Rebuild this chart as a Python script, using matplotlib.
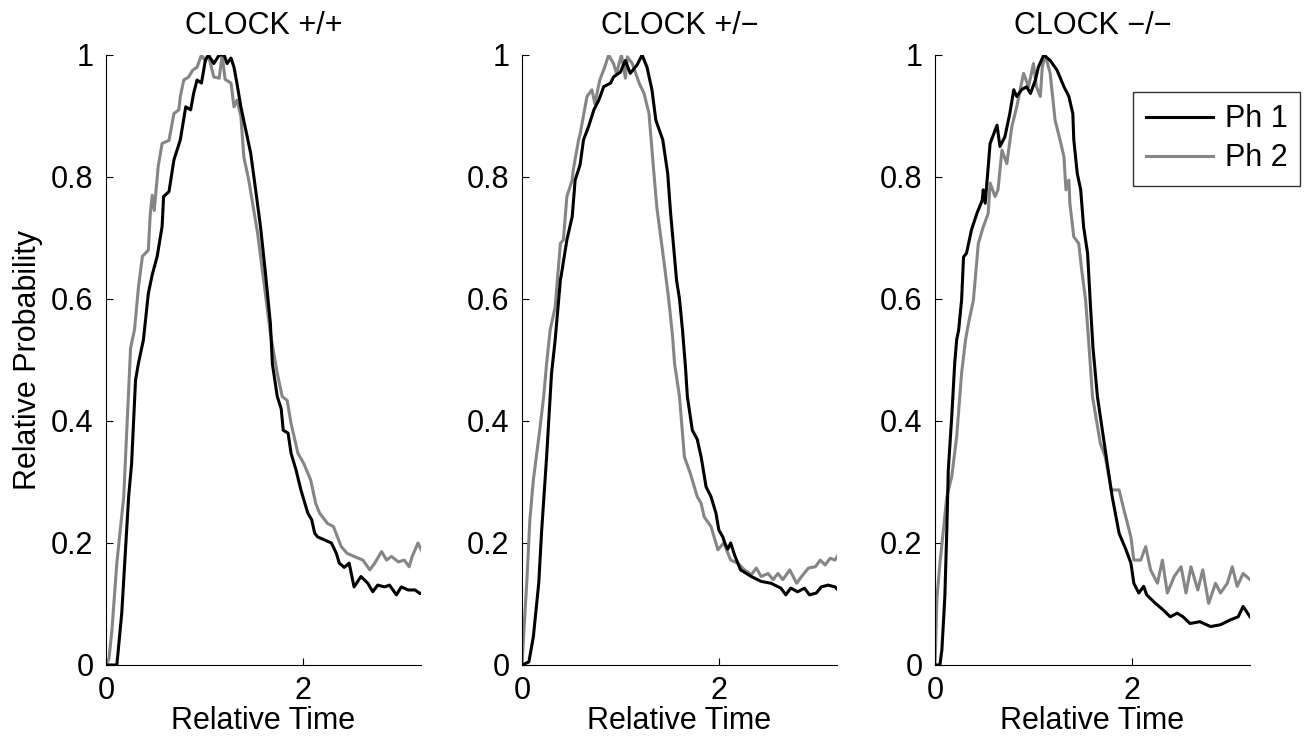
import numpy as np
import matplotlib
matplotlib.use("Agg")
import matplotlib.pyplot as plt

plt.rcParams['font.family'] = ['Liberation Sans', 'DejaVu Sans']
plt.rcParams['font.size'] = 22

titles = ['CLOCK +/+', 'CLOCK +/\u2212', 'CLOCK \u2212/\u2212']
labels = ['Ph 1', 'Ph 2']

# CLOCK +/+ , phase 1 (black)
t_wt_1 = [0, 0.08, 0.11, 0.125, 0.16, 0.19, 0.23, 0.26, 0.30, 0.33, 0.38, 0.43, 0.47, 0.52, 0.57,
          0.585, 0.64, 0.69, 0.755, 0.81, 0.86, 0.89, 0.925, 0.97, 1.01, 1.04, 1.095, 1.15, 1.20,
          1.23, 1.27, 1.30, 1.33, 1.37, 1.42, 1.47, 1.52, 1.57, 1.62, 1.67, 1.69, 1.74, 1.78, 1.80,
          1.85, 1.88, 1.93, 1.98, 2.05, 2.09, 2.12, 2.15, 2.22, 2.29, 2.34, 2.37, 2.42, 2.47, 2.52,
          2.59, 2.66, 2.71, 2.76, 2.83, 2.88, 2.95, 3.0, 3.07, 3.14, 3.19, 3.22]
p_wt_1 = [0, 0.0, 0.0, 0.025, 0.085, 0.167, 0.276, 0.33, 0.467, 0.495, 0.533, 0.609, 0.64, 0.67, 0.719,
          0.768, 0.776, 0.828, 0.861, 0.915, 0.91, 0.937, 0.959, 0.954, 0.992, 1.0, 0.986, 1.0, 1.0,
          0.986, 0.995, 0.98, 0.954, 0.915, 0.877, 0.839, 0.779, 0.718, 0.642, 0.56, 0.494, 0.44, 0.42, 0.385,
          0.38, 0.347, 0.32, 0.287, 0.249, 0.238, 0.216, 0.21, 0.205, 0.2, 0.183, 0.167, 0.16, 0.167, 0.128,
          0.145, 0.134, 0.12, 0.131, 0.128, 0.131, 0.115, 0.128, 0.123, 0.123, 0.117, 0.12]

# CLOCK +/+ , phase 2 (grey)
t_wt_2 = [0, 0.03, 0.06, 0.11, 0.18, 0.25, 0.29, 0.33, 0.37, 0.43, 0.45, 0.47, 0.49, 0.53, 0.57,
          0.64, 0.69, 0.74, 0.755, 0.79, 0.84, 0.88, 0.925, 0.97, 1.01, 1.04, 1.095, 1.15, 1.18,
          1.21, 1.27, 1.30, 1.33, 1.37, 1.40, 1.45, 1.54, 1.61, 1.67, 1.74, 1.79, 1.84, 1.88, 1.95,
          2.01, 2.08, 2.13, 2.17, 2.25, 2.31, 2.39, 2.45, 2.52, 2.61, 2.68, 2.73, 2.80, 2.85, 2.90,
          2.97, 3.03, 3.08, 3.11, 3.17, 3.21]
p_wt_2 = [0, 0.01, 0.057, 0.167, 0.276, 0.52, 0.55, 0.62, 0.67, 0.68, 0.74, 0.77, 0.745, 0.817, 0.855,
          0.86, 0.904, 0.91, 0.932, 0.959, 0.964, 0.975, 0.98, 1.0, 0.99, 1.0, 0.964, 0.962, 1.0,
          0.96, 0.954, 0.915, 0.926, 0.9, 0.833, 0.795, 0.708, 0.62, 0.544, 0.478, 0.44, 0.434, 0.396, 0.347,
          0.33, 0.303, 0.265, 0.249, 0.232, 0.227, 0.194, 0.183, 0.178, 0.172, 0.156, 0.167, 0.186, 0.172, 0.178,
          0.169, 0.172, 0.161, 0.178, 0.2, 0.186]

# CLOCK +/- , phase 1
t_het_1 = [0, 0.07, 0.115, 0.17, 0.20, 0.25, 0.30, 0.337, 0.39, 0.40, 0.456, 0.51, 0.54, 0.59, 0.625,
           0.675, 0.73, 0.78, 0.83, 0.90, 0.93, 1.0, 1.05, 1.10, 1.17, 1.22, 1.27, 1.32, 1.36, 1.43,
           1.48, 1.51, 1.54, 1.57, 1.60, 1.63, 1.66, 1.68, 1.73, 1.78, 1.82, 1.87, 1.92, 1.97, 2.0,
           2.04, 2.06, 2.09, 2.12, 2.16, 2.22, 2.33, 2.43, 2.53, 2.63, 2.68, 2.73, 2.80, 2.87, 2.92,
           2.99, 3.04, 3.11, 3.18, 3.21]
p_het_1 = [0, 0.005, 0.046, 0.134, 0.221, 0.341, 0.478, 0.533, 0.631, 0.64, 0.697, 0.735, 0.795, 0.82, 0.861,
           0.882, 0.91, 0.926, 0.948, 0.954, 0.964, 0.972, 0.991, 0.97, 0.984, 1.0, 0.98, 0.943, 0.893, 0.861,
           0.806, 0.74, 0.686, 0.631, 0.6, 0.55, 0.49, 0.44, 0.385, 0.37, 0.341, 0.292, 0.276, 0.249, 0.221,
           0.21, 0.2, 0.19, 0.2, 0.18, 0.156, 0.145, 0.137, 0.134, 0.126, 0.115, 0.126, 0.12, 0.126, 0.115,
           0.118, 0.128, 0.131, 0.128, 0.123]

# CLOCK +/- , phase 2
t_het_2 = [0, 0.02, 0.05, 0.08, 0.115, 0.15, 0.18, 0.22, 0.25, 0.286, 0.337, 0.39, 0.42, 0.456, 0.51,
           0.52, 0.575, 0.59, 0.66, 0.71, 0.74, 0.79, 0.84, 0.88, 0.93, 0.96, 1.01, 1.05, 1.07, 1.12,
           1.19, 1.24, 1.29, 1.34, 1.37, 1.44, 1.49, 1.53, 1.55, 1.60, 1.65, 1.71, 1.78, 1.82, 1.85,
           1.92, 1.99, 2.05, 2.12, 2.19, 2.26, 2.33, 2.38, 2.43, 2.50, 2.55, 2.60, 2.65, 2.72, 2.79,
           2.84, 2.91, 2.98, 3.03, 3.08, 3.13, 3.18, 3.21]
p_het_2 = [0, 0.057, 0.14, 0.238, 0.303, 0.347, 0.385, 0.44, 0.494, 0.549, 0.587, 0.691, 0.697, 0.768, 0.795,
           0.811, 0.861, 0.87, 0.932, 0.943, 0.92, 0.959, 0.98, 1.0, 0.986, 0.97, 1.0, 0.962, 0.997, 0.986,
           0.954, 0.937, 0.904, 0.806, 0.75, 0.664, 0.6, 0.538, 0.494, 0.44, 0.341, 0.314, 0.276, 0.265, 0.243,
           0.227, 0.189, 0.2, 0.172, 0.167, 0.156, 0.148, 0.159, 0.145, 0.15, 0.14, 0.15, 0.14, 0.156, 0.134,
           0.145, 0.159, 0.161, 0.172, 0.164, 0.175, 0.172, 0.18]

# CLOCK -/- , phase 1
t_ko_1 = [0, 0.05, 0.07, 0.10, 0.12, 0.135, 0.17, 0.20, 0.22, 0.24, 0.27, 0.29, 0.32, 0.37, 0.425,
          0.48, 0.49, 0.51, 0.56, 0.63, 0.66, 0.71, 0.76, 0.80, 0.83, 0.88, 0.93, 0.97, 1.02, 1.05,
          1.105, 1.17, 1.24, 1.31, 1.36, 1.40, 1.41, 1.445, 1.48, 1.51, 1.55, 1.58, 1.605, 1.65, 1.70,
          1.75, 1.80, 1.87, 1.94, 1.99, 2.02, 2.07, 2.12, 2.15, 2.24, 2.32, 2.39, 2.46, 2.52, 2.59,
          2.69, 2.80, 2.90, 3.0, 3.08, 3.13, 3.20]
p_ko_1 = [0, 0.0, 0.025, 0.112, 0.221, 0.32, 0.407, 0.494, 0.533, 0.549, 0.598, 0.669, 0.675, 0.713, 0.74,
          0.762, 0.779, 0.757, 0.855, 0.885, 0.85, 0.866, 0.904, 0.943, 0.932, 0.943, 0.948, 0.937, 0.959, 0.98,
          1.0, 0.991, 0.975, 0.948, 0.932, 0.904, 0.861, 0.806, 0.779, 0.718, 0.675, 0.587, 0.52, 0.44, 0.385,
          0.33, 0.276, 0.216, 0.189, 0.167, 0.134, 0.118, 0.129, 0.115, 0.101, 0.09, 0.079, 0.085, 0.079, 0.068,
          0.071, 0.063, 0.066, 0.074, 0.079, 0.096, 0.079]

# CLOCK -/- , phase 2
t_ko_2 = [0, 0.02, 0.05, 0.085, 0.12, 0.17, 0.22, 0.27, 0.31, 0.34, 0.39, 0.44, 0.49, 0.54, 0.56,
          0.61, 0.64, 0.68, 0.73, 0.78, 0.83, 0.90, 0.95, 1.0, 1.03, 1.07, 1.09, 1.12, 1.17, 1.22,
          1.27, 1.31, 1.33, 1.36, 1.37, 1.41, 1.46, 1.49, 1.53, 1.56, 1.60, 1.68, 1.73, 1.79, 1.87,
          1.92, 1.99, 2.02, 2.09, 2.14, 2.19, 2.26, 2.31, 2.36, 2.43, 2.50, 2.55, 2.60, 2.67, 2.72,
          2.78, 2.85, 2.90, 2.97, 3.02, 3.07, 3.13, 3.20]
p_ko_2 = [0, 0.11, 0.167, 0.221, 0.276, 0.309, 0.374, 0.478, 0.533, 0.56, 0.598, 0.691, 0.718, 0.74, 0.79,
          0.768, 0.779, 0.844, 0.822, 0.882, 0.915, 0.97, 0.948, 0.986, 0.948, 0.932, 0.98, 1.0, 0.97, 0.893,
          0.861, 0.833, 0.779, 0.795, 0.757, 0.702, 0.691, 0.648, 0.598, 0.533, 0.44, 0.363, 0.341, 0.287, 0.287,
          0.254, 0.21, 0.172, 0.172, 0.194, 0.156, 0.134, 0.172, 0.118, 0.145, 0.161, 0.118, 0.161, 0.123, 0.156,
          0.101, 0.134, 0.118, 0.134, 0.161, 0.129, 0.150, 0.14]

panels = [(t_wt_1, p_wt_1, t_wt_2, p_wt_2),
          (t_het_1, p_het_1, t_het_2, p_het_2),
          (t_ko_1, p_ko_1, t_ko_2, p_ko_2)]

W, H = 1308, 742
fig = plt.figure(figsize=(W / 100, H / 100), dpi=100)
lefts = [106, 522, 935]
axes = []
for i, (t1, p1, t2, p2) in enumerate(panels):
    ax = fig.add_axes([lefts[i] / W, 1 - 665 / H, 315 / W, 610 / H])
    ax.plot(t1, p1, color='k', lw=2.2, label=labels[0], zorder=3)
    ax.plot(t2, p2, color='#858585', lw=2.2, label=labels[1], zorder=2)
    ax.set_xlim(0, 3.2)
    ax.set_ylim(0, 1)
    ax.set_xticks([0, 2])
    ax.set_xticklabels(['0', '2'])
    ax.set_yticks([0, 0.2, 0.4, 0.6, 0.8, 1])
    ax.set_yticklabels(['0', '0.2', '0.4', '0.6', '0.8', '1'])
    ax.spines['top'].set_visible(False)
    ax.spines['right'].set_visible(False)
    for s in ('left', 'bottom'):
        ax.spines[s].set_linewidth(0.8)
    ax.tick_params(direction='in', length=5, width=0.8, labelsize=22)
    ax.tick_params(axis='y', pad=9)
    ax.tick_params(axis='x', pad=8)
    ax.set_title(titles[i], fontsize=22, pad=15)
    ax.set_xlabel('Relative Time', fontsize=22, labelpad=0)
    axes.append(ax)

axes[0].set_ylabel('Relative Probability', fontsize=22, labelpad=6)

axes[2].legend(loc='upper right', bbox_to_anchor=(1300 / W, 1 - 92 / H),
               bbox_transform=fig.transFigure, borderaxespad=0, fancybox=False,
               framealpha=1, edgecolor='#333333', handlelength=2.2, handletextpad=0.4,
               borderpad=0.4, labelspacing=0.3, fontsize=22)

fig.savefig('out.png', dpi=100)
